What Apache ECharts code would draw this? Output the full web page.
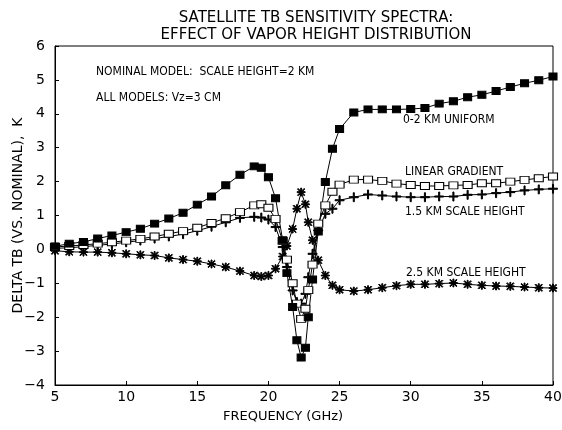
<!DOCTYPE html>
<html>
<head>
<meta charset="utf-8">
<script src="https://cdn.jsdelivr.net/npm/echarts@6/dist/echarts.min.js"></script>
<style>
  html, body { margin: 0; padding: 0; background: #fff; }
  #chart { width: 562px; height: 430px; }
</style>
</head>
<body>
<div id="chart"></div>
<script>
// frequency grid (GHz), denser around the 22.2 GHz water line
const freq = [5, 6, 7, 8, 9, 10, 11, 12, 13, 14, 15, 16, 17, 18,
  19, 19.5, 20, 20.5, 21, 21.3, 21.7, 22, 22.3, 22.6, 22.8, 23.1, 23.5, 24, 24.5, 25,
  26, 27, 28, 29, 30, 31, 32, 33, 34, 35, 36, 37, 38, 39, 40];

const uniform02 = [0.09, 0.17, 0.22, 0.32, 0.41, 0.51, 0.61, 0.76, 0.91, 1.08, 1.32, 1.56, 1.89, 2.2,
  2.45, 2.41, 2.13, 1.51, 0.27, -0.7, -1.7, -2.68, -3.19, -2.9, -2.0, -0.89, 0.53, 1.99, 2.97, 3.55,
  4.04, 4.13, 4.13, 4.13, 4.14, 4.17, 4.3, 4.37, 4.49, 4.56, 4.67, 4.79, 4.9, 4.99, 5.1];

const linearGrad = [0.07, 0.1, 0.13, 0.17, 0.21, 0.26, 0.31, 0.38, 0.46, 0.54, 0.64, 0.78, 0.92, 1.1,
  1.3, 1.33, 1.23, 0.9, 0.25, -0.3, -1.0, -1.6, -2.05, -1.75, -1.2, -0.45, 0.76, 1.3, 1.7, 1.91,
  2.06, 2.06, 2.02, 1.94, 1.9, 1.87, 1.87, 1.89, 1.9, 1.95, 1.95, 2.0, 2.05, 2.1, 2.15];

const scale15 = [0.03, 0.05, 0.08, 0.12, 0.16, 0.21, 0.26, 0.32, 0.38, 0.45, 0.55, 0.67, 0.8, 0.93,
  0.96, 0.94, 0.88, 0.66, 0.07, -0.52, -1.21, -1.55, -1.6, -1.31, -0.82, -0.13, 0.56, 1.05, 1.2, 1.45,
  1.54, 1.62, 1.59, 1.56, 1.54, 1.54, 1.56, 1.56, 1.61, 1.62, 1.66, 1.69, 1.74, 1.77, 1.79];

const scale25 = [-0.04, -0.07, -0.08, -0.08, -0.1, -0.13, -0.16, -0.18, -0.25, -0.3, -0.35, -0.43, -0.52, -0.64,
  -0.77, -0.8, -0.77, -0.57, -0.21, 0.1, 0.6, 1.2, 1.69, 1.33, 0.8, 0.27, -0.32, -0.77, -1.06, -1.19,
  -1.23, -1.19, -1.13, -1.07, -1.03, -1.03, -1.01, -0.99, -1.03, -1.06, -1.08, -1.09, -1.11, -1.13, -1.14];

const seriesNames = ["0-2 KM UNIFORM", "LINEAR GRADIENT", "1.5 KM SCALE HEIGHT", "2.5 KM SCALE HEIGHT"];

const FONT = "'DejaVu Sans', sans-serif";
const NARROW = "'Liberation Sans Narrow', 'DejaVu Sans Condensed', sans-serif";
const plusPath = "path://M4.4,0H5.6V4.4H10V5.6H5.6V10H4.4V5.6H0V4.4H4.4Z";
const starPath = "path://M4.4,0H5.6V4.4H10V5.6H5.6V10H4.4V5.6H0V4.4H4.4Z" +
  "M1.2,0.4L9.6,8.8L8.8,9.6L0.4,1.2Z M8.8,0.4L9.6,1.2L1.2,9.6L0.4,8.8Z";

const pairs = vals => freq.map((f, i) => [f, vals[i]]);

const chart = echarts.init(document.getElementById("chart"));

const mkSeries = (name, vals, symbol, size, fill) => ({
  name,
  type: "line",
  data: pairs(vals),
  symbol,
  symbolSize: size,
  showAllSymbol: true,
  lineStyle: { color: "#000", width: 1 },
  itemStyle: { color: fill, borderColor: "#000", borderWidth: 1 },
  emphasis: { disabled: true },
  z: 3
});

const textStyle = { fill: "#000", font: "12px " + NARROW };

chart.setOption({
  animation: false,
  title: {
    text: "SATELLITE TB SENSITIVITY SPECTRA:\nEFFECT OF VAPOR HEIGHT DISTRIBUTION",
    left: 311,
    top: 5,
    textAlign: "center",
    textStyle: { fontFamily: FONT, fontSize: 15, fontWeight: "normal", color: "#000", lineHeight: 17 }
  },
  grid: {
    left: 55, right: 9, top: 46, bottom: 45,
    containLabel: false,
    outerBoundsMode: "none",
    show: true, borderColor: "#000", borderWidth: 1, backgroundColor: "transparent"
  },
  xAxis: {
    type: "value",
    min: 5, max: 40, interval: 5,
    name: "FREQUENCY (GHz)",
    nameLocation: "middle",
    nameGap: 25,
    nameTextStyle: { fontFamily: FONT, fontSize: 13, color: "#000", padding: [0, 42, 0, 0] },
    axisLine: { onZero: false, lineStyle: { color: "#000", width: 1 } },
    axisTick: { inside: true, length: 4, lineStyle: { color: "#000" } },
    axisLabel: { fontFamily: FONT, fontSize: 14, color: "#000", margin: 5 },
    splitLine: { show: false }
  },
  yAxis: {
    type: "value",
    min: -4, max: 6, interval: 1,
    name: "DELTA TB (VS. NOMINAL),  K",
    nameLocation: "middle",
    nameGap: 30,
    nameMoveOverlap: false,
    nameTextStyle: { fontFamily: FONT, fontSize: 14, color: "#000" },
    axisLine: { onZero: false, lineStyle: { color: "#000", width: 1 } },
    axisTick: { inside: true, length: 4, lineStyle: { color: "#000" } },
    axisLabel: { fontFamily: FONT, fontSize: 14, color: "#000", margin: 10,
      formatter: v => (v < 0 ? "\u2212" + Math.abs(v) : String(v)) },
    splitLine: { show: false }
  },
  graphic: [
    { type: "text", left: 96, top: 66, style: Object.assign({ text: "NOMINAL MODEL:  SCALE HEIGHT=2 KM" }, textStyle) },
    { type: "text", left: 96, top: 92, style: Object.assign({ text: "ALL MODELS: Vz=3 CM" }, textStyle) },
    { type: "text", left: 403, top: 114, style: Object.assign({ text: seriesNames[0] }, textStyle) },
    { type: "text", left: 405, top: 166, style: Object.assign({ text: seriesNames[1] }, textStyle) },
    { type: "text", left: 405, top: 206, style: Object.assign({ text: seriesNames[2] }, textStyle) },
    { type: "text", left: 406, top: 267, style: Object.assign({ text: seriesNames[3] }, textStyle) }
  ],
  series: [
    mkSeries(seriesNames[3], scale25, starPath, 8, "#000"),
    mkSeries(seriesNames[2], scale15, plusPath, 9, "#000"),
    mkSeries(seriesNames[1], linearGrad, "rect", [9, 7], "#fff"),
    mkSeries(seriesNames[0], uniform02, "rect", [8, 7], "#000")
  ]
});

window.addEventListener("resize", chart.resize);
</script>
</body>
</html>
